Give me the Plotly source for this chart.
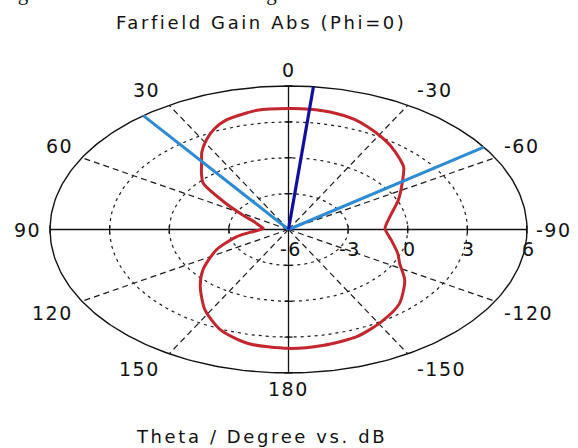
import numpy as np
import plotly.graph_objects as go

# ---------------- data ----------------
theta_deg = [-180, -170, -159, -149, -138, -126, -117, -110, -100, -89, -78, -66, -55, -48, -44,
             -36, -31, -25, -20, -12, -6, 0, 9, 12, 19, 24, 29, 34, 38, 43, 48, 55, 63, 70,
             78, 86, 97, 103, 115, 128, 137, 148, 158, 168, 180]
gain_db = [3.94, 3.85, 3.6, 3.03, 2.34, 1.23, 0.28, -0.15, -0.74, -1.14, -0.78, 0.05, 1.0, 1.8, 2.1,
           2.7, 3.05, 3.45, 3.78, 4.05, 4.12, 4.12, 4.1, 3.98, 3.67, 3.2, 2.54, 1.8, 1.1, 0.42, -0.23,
           -2.1, -3.5, -4.2, -4.52, -4.73, -4.05, -3.33, -2.0, -0.54, 0.51, 1.93, 3.08, 3.75, 3.94]
main_lobe_deg = -6.0
beam_edges_deg = [37.5, -55.0]
angle_ticks = [0, 30, 60, 90, 120, 150, 180, -150, -120, -90, -60, -30]
angle_tick_labels = ["0", "30", "60", "90", "120", "150", "180", "-150", "-120", "-90", "-60", "-30"]
spoke_angles = [30, 60, 120, 150, -30, -60, -120, -150]
radial_ticks = [-6, -3, 0, 3, 6]
radial_tick_labels = ["-6", "-3", "0", "3", "6"]
grid_circles = [-3, 0, 3]
r_min, r_max = -6, 6
title_text = "Farfield Gain Abs (Phi=0)"
axis_text = "Theta / Degree vs. dB"
caption_text = "angular width at 3 dB is 92.5 degree."

# ---------------- helpers ----------------
W, H = 578, 448
CX, CY = 288.5, 229.5      # centre in pixels
RX, RY = 238.5, 143.5      # outer radius in pixels (horizontal / vertical)


def norm(r):
    return (np.asarray(r, dtype=float) - r_min) / (r_max - r_min)


def to_xy(theta, r):
    t = np.radians(np.asarray(theta, dtype=float))
    rn = norm(r)
    return -rn * np.sin(t), rn * np.cos(t)


def spaced(text, sp):
    return f'<span style="letter-spacing:{sp}px">{text}</span>'


fig = go.Figure()

full = np.linspace(0, 360, 361)

# dotted grid circles
gx, gy = [], []
for rc in grid_circles:
    x, y = to_xy(full, np.full_like(full, rc))
    gx += list(x) + [None]
    gy += list(y) + [None]
fig.add_trace(go.Scatter(x=gx, y=gy, mode="lines",
                         line=dict(color="#1a1a1a", width=1.2, dash="3px,4px"),
                         hoverinfo="skip"))

# dashed spokes
sx, sy = [], []
for a in spoke_angles:
    x, y = to_xy([a, a], [r_min, r_max])
    sx += list(x) + [None]
    sy += list(y) + [None]
fig.add_trace(go.Scatter(x=sx, y=sy, mode="lines",
                         line=dict(color="#1a1a1a", width=1.2, dash="6px,4px"),
                         hoverinfo="skip"))

# solid axes (0-180 and 90/-90)
ax_x, ax_y = [], []
for a in [0, 90]:
    x, y = to_xy([a, a + 180], [r_max, r_max])
    ax_x += list(x) + [None]
    ax_y += list(y) + [None]
fig.add_trace(go.Scatter(x=ax_x, y=ax_y, mode="lines",
                         line=dict(color="#111111", width=1.3), hoverinfo="skip"))

# small tick marks on the axes at grid radii
tick_len_x = 4 / RX
tick_len_y = 4 / RY
tx, ty = [], []
for rc in grid_circles + [r_max]:
    rn = float(norm(rc))
    for sgn in (1, -1):
        tx += [sgn * rn, sgn * rn, None]
        ty += [-tick_len_y, tick_len_y, None]
        tx += [-tick_len_x, tick_len_x, None]
        ty += [sgn * rn, sgn * rn, None]
fig.add_trace(go.Scatter(x=tx, y=ty, mode="lines",
                         line=dict(color="#111111", width=1.3), hoverinfo="skip"))

# outer circle
ox, oy = to_xy(full, np.full_like(full, r_max))
fig.add_trace(go.Scatter(x=ox, y=oy, mode="lines",
                         line=dict(color="#111111", width=1.4), hoverinfo="skip"))

# gain pattern
px, py = to_xy(theta_deg, gain_db)
fig.add_trace(go.Scatter(x=px, y=py, mode="lines",
                         line=dict(color="#c3262e", width=3, shape="spline", smoothing=0.7),
                         hoverinfo="skip"))

# 3 dB beam edges
bx, by = [], []
for a in beam_edges_deg:
    x, y = to_xy([a, a], [r_min, r_max])
    bx += list(x) + [None]
    by += list(y) + [None]
fig.add_trace(go.Scatter(x=bx, y=by, mode="lines",
                         line=dict(color="#2d8bd3", width=3), hoverinfo="skip"))

# main lobe direction
mx, my = to_xy([main_lobe_deg, main_lobe_deg], [r_min, r_max])
fig.add_trace(go.Scatter(x=mx, y=my, mode="lines",
                         line=dict(color="#10109c", width=3.2), hoverinfo="skip"))

annotations = []
lab_font = dict(family="DejaVu Sans", size=19, color="#111111")

# angular tick labels
for a, lab in zip(angle_ticks, angle_tick_labels):
    x, y = to_xy([a], [r_max])
    s = np.sin(np.radians(a))
    c = np.cos(np.radians(a))
    if abs(s) < 1e-6:
        xa, xs = "center", 0
    elif s > 0:
        xa, xs = "right", -7
    else:
        xa, xs = "left", 7
    ys = np.sign(c) * np.sqrt(abs(c)) * 16 if abs(c) > 1e-6 else 0
    annotations.append(dict(x=float(x[0]), y=float(y[0]), text=spaced(lab, 1.5),
                            showarrow=False, xanchor=xa, yanchor="middle",
                            xshift=xs, yshift=float(ys), font=lab_font))

# radial tick labels along the right axis
for rv, lab in zip(radial_ticks, radial_tick_labels):
    x, y = to_xy([-90], [rv])
    annotations.append(dict(x=float(x[0]), y=0, text=spaced(lab, 1.5), showarrow=False,
                            xanchor="center", yanchor="middle", yshift=-19, xshift=2,
                            font=lab_font))

# title and axis caption
txt_font = dict(family="DejaVu Sans", size=18, color="#111111")
annotations.append(dict(x=261 / W, y=1 - 23 / H, xref="paper", yref="paper",
                        text=spaced(title_text, 2.6), showarrow=False,
                        xanchor="center", yanchor="middle", font=txt_font))
annotations.append(dict(x=261 / W, y=1 - 436 / H, xref="paper", yref="paper",
                        text=spaced(axis_text, 2.6), showarrow=False,
                        xanchor="center", yanchor="middle", font=txt_font))
# clipped caption at very top (from source document)
annotations.append(dict(x=0, y=1, xref="paper", yref="paper",
                        text=caption_text, showarrow=False,
                        xanchor="left", yanchor="middle", yshift=7, xshift=-4,
                        font=dict(family="Liberation Serif", size=21, color="#111111")))

fig.update_layout(
    width=W, height=H,
    margin=dict(l=0, r=0, t=0, b=0),
    paper_bgcolor="white", plot_bgcolor="white",
    showlegend=False,
    xaxis=dict(range=[-CX / RX, (W - CX) / RX], visible=False, fixedrange=True),
    yaxis=dict(range=[-(H - CY) / RY, CY / RY], visible=False, fixedrange=True),
    annotations=annotations,
)

fig.write_html("out.html", config={"displayModeBar": False},
               post_script="document.body.style.margin='0';document.body.style.overflow='hidden';")
